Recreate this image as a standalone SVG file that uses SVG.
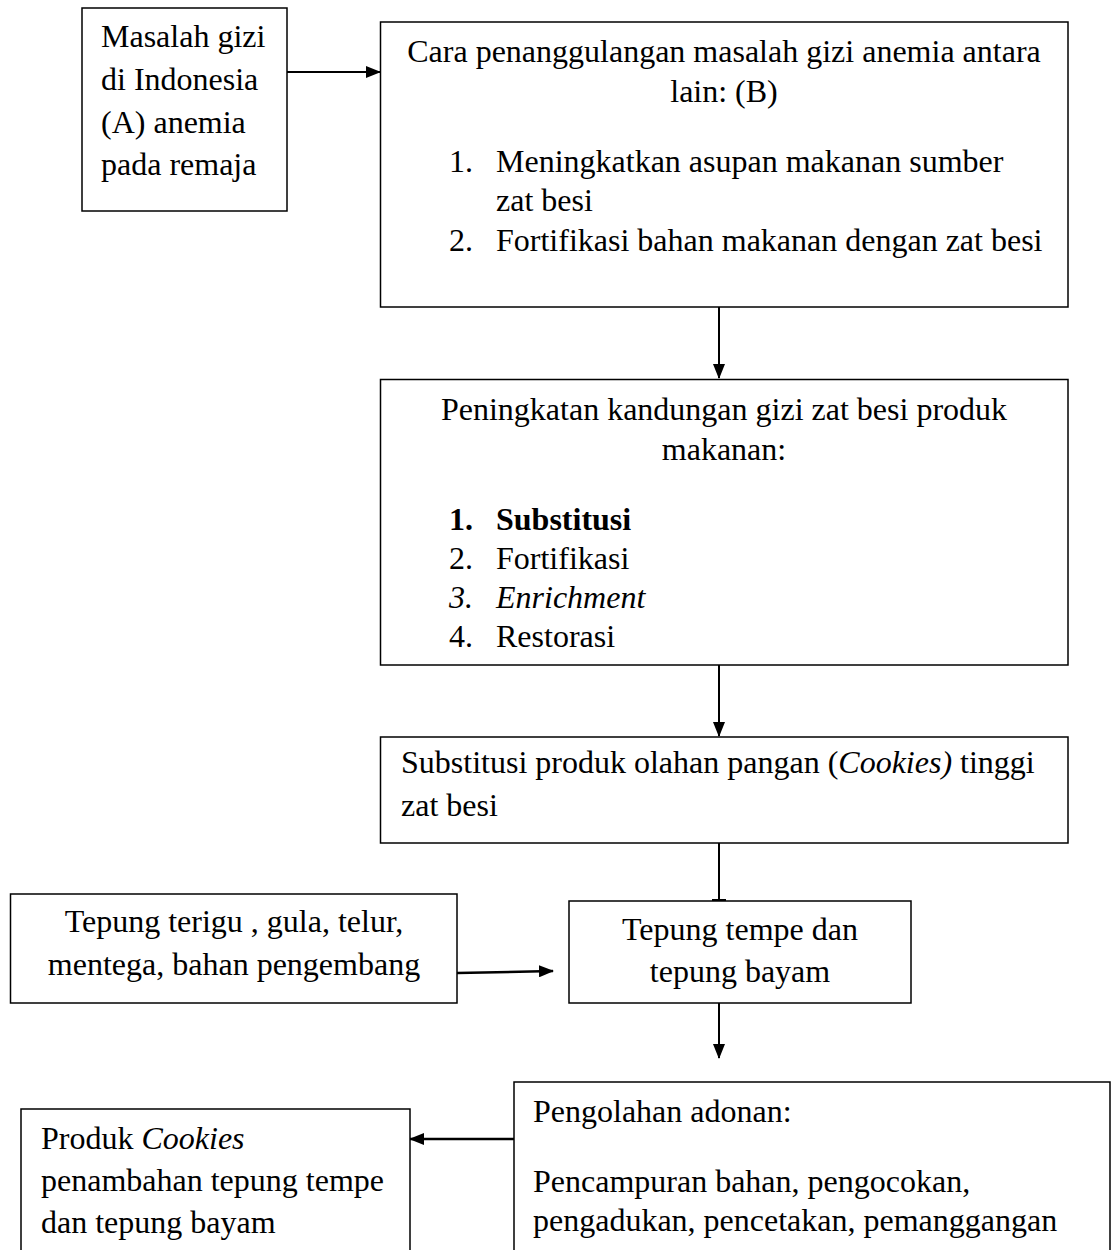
<svg xmlns="http://www.w3.org/2000/svg" width="1112" height="1250" viewBox="0 0 1112 1250">
<style>
.box{fill:#fff;stroke:#000;stroke-width:1.5}
.t{font-family:"Liberation Serif","Times New Roman",serif;font-size:32px;fill:#000}
.c{text-anchor:middle}
.con{stroke:#000;stroke-width:2;fill:none}
</style>
<defs>
<marker id="ah" viewBox="0 0 15 12" refX="14" refY="6" markerWidth="15" markerHeight="12" markerUnits="userSpaceOnUse" orient="auto">
<path d="M0,0 L15,6 L0,12 z" fill="#000"/>
</marker>
</defs>
<rect width="1112" height="1250" fill="#fff"/>
<g id="connectors">
<line class="con" x1="287" y1="72" x2="380" y2="72" marker-end="url(#ah)"/>
<line class="con" x1="719" y1="307" x2="719" y2="378" marker-end="url(#ah)"/>
<line class="con" x1="719" y1="665" x2="719" y2="736" marker-end="url(#ah)"/>
<line class="con" x1="719" y1="843" x2="719" y2="901"/>
<line class="con" x1="712" y1="900" x2="726" y2="900"/>
<line class="con" x1="457" y1="973" x2="553" y2="971" style="stroke-width:2.5" marker-end="url(#ah)"/>
<line class="con" x1="719" y1="1003" x2="719" y2="1058" marker-end="url(#ah)"/>
<line class="con" x1="514" y1="1139" x2="410" y2="1139" style="stroke-width:2.5" marker-end="url(#ah)"/>
</g>
<g id="nodeA">
<rect class="box" x="82" y="8" width="205" height="203"/>
<text class="t" x="101" y="47">Masalah gizi</text>
<text class="t" x="101" y="90">di Indonesia</text>
<text class="t" x="101" y="133">(A) anemia</text>
<text class="t" x="101" y="175">pada remaja</text>
</g>
<g id="nodeB">
<rect class="box" x="380.5" y="22" width="687.5" height="285"/>
<text class="t c" x="724" y="62">Cara penanggulangan masalah gizi anemia antara</text>
<text class="t c" x="724" y="102">lain: (B)</text>
<text class="t" x="449" y="172">1.</text>
<text class="t" x="496" y="172">Meningkatkan asupan makanan sumber</text>
<text class="t" x="496" y="211">zat besi</text>
<text class="t" x="449" y="251">2.</text>
<text class="t" x="496" y="251">Fortifikasi bahan makanan dengan zat besi</text>
</g>
<g id="nodeC">
<rect class="box" x="380.5" y="379.5" width="687.5" height="285.5"/>
<text class="t c" x="724" y="420">Peningkatan kandungan gizi zat besi produk</text>
<text class="t c" x="724" y="460">makanan:</text>
<text class="t" x="449" y="530" font-weight="bold">1.</text>
<text class="t" x="496" y="530" font-weight="bold">Substitusi</text>
<text class="t" x="449" y="569">2.</text>
<text class="t" x="496" y="569">Fortifikasi</text>
<text class="t" x="449" y="608" font-style="italic">3.</text>
<text class="t" x="496" y="608" font-style="italic">Enrichment</text>
<text class="t" x="449" y="647">4.</text>
<text class="t" x="496" y="647">Restorasi</text>
</g>
<g id="nodeD">
<rect class="box" x="380.5" y="737" width="687.5" height="106"/>
<text class="t" x="401" y="773">Substitusi produk olahan pangan (<tspan font-style="italic">Cookies)</tspan> tinggi</text>
<text class="t" x="401" y="816">zat besi</text>
</g>
<g id="nodeF">
<rect class="box" x="10.5" y="894" width="446.5" height="109"/>
<text class="t c" x="234" y="932">Tepung terigu , gula, telur,</text>
<text class="t c" x="234" y="975">mentega, bahan pengembang</text>
</g>
<g id="nodeE">
<rect class="box" x="569" y="901" width="342" height="102"/>
<text class="t c" x="740" y="940">Tepung tempe dan</text>
<text class="t c" x="740" y="982">tepung bayam</text>
</g>
<g id="nodeG">
<rect class="box" x="514" y="1082" width="596" height="200"/>
<text class="t" x="533" y="1122">Pengolahan adonan:</text>
<text class="t" x="533" y="1192">Pencampuran bahan, pengocokan,</text>
<text class="t" x="533" y="1231">pengadukan, pencetakan, pemanggangan</text>
</g>
<g id="nodeH">
<rect class="box" x="21" y="1109" width="389" height="200"/>
<text class="t" x="41" y="1149">Produk <tspan font-style="italic">Cookies</tspan></text>
<text class="t" x="41" y="1191">penambahan tepung tempe</text>
<text class="t" x="41" y="1233">dan tepung bayam</text>
</g>
</svg>
